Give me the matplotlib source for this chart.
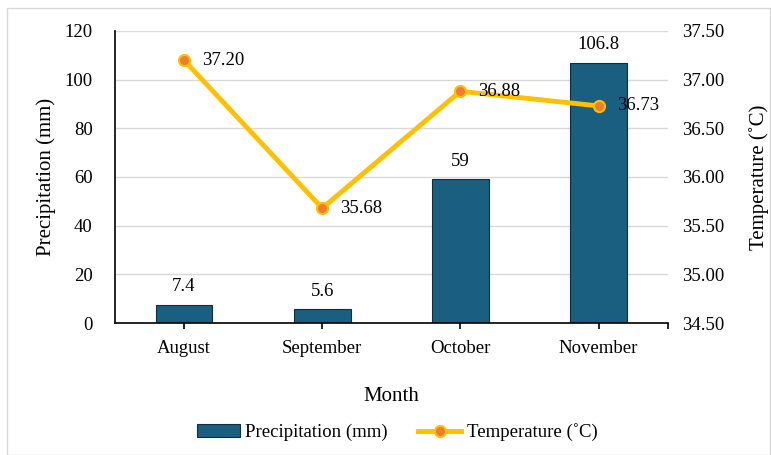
import numpy as np
import matplotlib.pyplot as plt
from matplotlib.patches import Rectangle

plt.rcParams["font.family"] = ["Liberation Serif", "DejaVu Serif"]

meses = ["August", "September", "October", "November"]
precipitacion = [7.4, 5.6, 59, 106.8]
temperatura = [37.20, 35.68, 36.88, 36.73]

color_barra = "#1A5E80"
color_linea = "#FFC000"
color_marca = "#ED7D31"

fig = plt.figure(figsize=(7.71, 4.55), dpi=100)
fig.patches.append(Rectangle((0.009, 0.0), 0.99, 0.982, transform=fig.transFigure,
                             fill=False, edgecolor="#D9D9D9", linewidth=1))

ax = fig.add_axes([0.149, 0.29, 0.717, 0.642])
x = np.arange(len(meses))

# Barras de precipitación (eje izquierdo)
barras = ax.bar(x, precipitacion, width=0.41, color=color_barra, edgecolor="#0E2F40",
                linewidth=0.8, zorder=2, label="Precipitation (mm)")
for xi, v in zip(x, precipitacion):
    ax.text(xi, v + 4, f"{v:g}", ha="center", va="bottom", fontsize=13.5)

ax.set_ylim(0, 120)
ax.set_yticks(np.arange(0, 121, 20))
ax.set_xlim(-0.5, 3.5)
ax.set_xticks(list(x) + [3.5])
ax.set_xticklabels(meses + [""])
ax.grid(axis="y", color="#D9D9D9", linewidth=1, zorder=0)
ax.set_axisbelow(True)
ax.tick_params(axis="x", length=4, width=1.2, color="black", labelsize=13.5, pad=8)
ax.tick_params(axis="y", length=0, labelsize=13.5, pad=16)
for lado in ["top", "right"]:
    ax.spines[lado].set_visible(False)
ax.spines["bottom"].set_color("black")
ax.spines["bottom"].set_linewidth(1.2)
ax.spines["left"].set_color("black")
ax.spines["left"].set_linewidth(1.2)
ax.set_ylabel("Precipitation (mm)", fontsize=15, labelpad=6)
ax.set_xlabel("Month", fontsize=15, labelpad=22)

# Línea de temperatura (eje derecho)
ax2 = ax.twinx()
linea, = ax2.plot(x, temperatura, color=color_linea, linewidth=3.5, marker="o",
                  markersize=8, markerfacecolor=color_marca, markeredgecolor=color_linea,
                  markeredgewidth=1.5, zorder=3, label="Temperature (˚C)")
for xi, t in zip(x, temperatura):
    ax2.annotate(f"{t:.2f}", (xi, t), xytext=(13, 0), textcoords="offset points",
                 ha="left", va="center", fontsize=13.5)
ax2.set_ylim(34.5, 37.5)
ax2.set_yticks(np.arange(34.5, 37.51, 0.5))
ax2.yaxis.set_major_formatter(plt.FormatStrFormatter("%.2f"))
ax2.tick_params(length=0, labelsize=13.5, pad=10)
for lado in ["top", "right", "left", "bottom"]:
    ax2.spines[lado].set_visible(False)
ax2.set_ylabel("Temperature (˚C)", fontsize=15, labelpad=18)

fig.legend([barras, linea], ["Precipitation (mm)", "Temperature (˚C)"],
           loc="center", bbox_to_anchor=(0.515, 0.05), ncol=2, frameon=False,
           fontsize=13.5, handlelength=2.3, columnspacing=1.6, handletextpad=0.3)

fig.savefig("out.png", dpi=100)
